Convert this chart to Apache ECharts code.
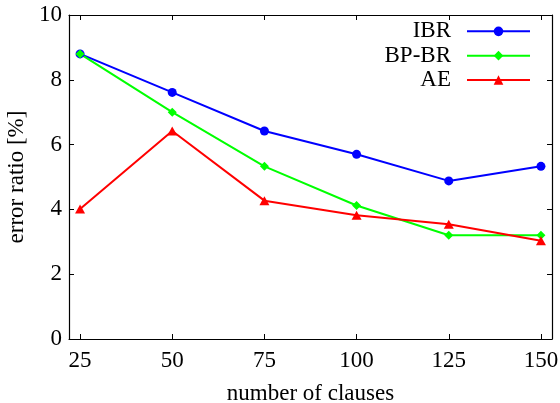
<!DOCTYPE html>
<html>
<head>
<meta charset="utf-8">
<script src="https://cdn.jsdelivr.net/npm/echarts@6/dist/echarts.min.js"></script>
<style>html,body{margin:0;padding:0;background:#fff}#c{width:560px;height:403px}</style>
</head>
<body>
<div id="c"></div>
<script>
const clauses = [25, 50, 75, 100, 125, 150];
const ibr = [8.80, 7.61, 6.42, 5.70, 4.88, 5.33];
const bpbr = [8.80, 7.00, 5.33, 4.12, 3.20, 3.20];
const ae = [4.01, 6.42, 4.27, 3.82, 3.54, 3.03];
const xTicks = [25, 50, 75, 100, 125, 150];
const seriesNames = ['IBR', 'BP-BR', 'AE'];

const FONT = "'Liberation Serif', 'Times New Roman', serif";
const pair = (vals) => clauses.map((c, i) => [c, vals[i]]);

const chart = echarts.init(document.getElementById('c'), null, {renderer: 'canvas'});
const axisLine = {show: true, onZero: false, lineStyle: {color: '#000', width: 1.2}};
const tickStyle = {lineStyle: {color: '#000', width: 1}};
chart.setOption({
  animation: false,
  backgroundColor: '#fff',
  textStyle: {fontFamily: FONT},
  grid: {left: 69, right: 8, top: 15, bottom: 64, containLabel: false, outerBoundsMode: 'none'},
  legend: {
    data: seriesNames,
    orient: 'vertical',
    align: 'right',
    right: 29,
    top: 19.5,
    padding: 0,
    itemGap: 0.6,
    itemWidth: 63,
    itemHeight: 12,
    textStyle: {fontFamily: FONT, fontSize: 23, color: '#000', lineHeight: 23.7, padding: [0, 11, 0, 0]}
  },
  xAxis: [{
    type: 'value', min: 22, max: 153,
    name: 'number of clauses', nameLocation: 'middle', nameGap: 43,
    nameTextStyle: {fontFamily: FONT, fontSize: 23, color: '#000'},
    axisLine: axisLine,
    axisTick: Object.assign({show: true, inside: true, length: 5, customValues: xTicks}, tickStyle),
    axisLabel: {show: true, customValues: xTicks, fontFamily: FONT, fontSize: 23, color: '#000', margin: 10},
    splitLine: {show: false}
  }, {
    type: 'value', min: 22, max: 153, position: 'top',
    axisLine: axisLine,
    axisTick: Object.assign({show: true, inside: true, length: 5, customValues: xTicks}, tickStyle),
    axisLabel: {show: false},
    splitLine: {show: false}
  }],
  yAxis: [{
    type: 'value', min: 0, max: 10, interval: 2,
    name: 'error ratio [%]', nameLocation: 'middle', nameGap: 38,
    nameTextStyle: {fontFamily: FONT, fontSize: 23, color: '#000'},
    axisLine: axisLine,
    axisTick: Object.assign({show: true, inside: true, length: 5}, tickStyle),
    axisLabel: {fontFamily: FONT, fontSize: 23, color: '#000', margin: 7},
    splitLine: {show: false}
  }, {
    type: 'value', min: 0, max: 10, interval: 2, position: 'right',
    axisLine: axisLine,
    axisTick: Object.assign({show: true, inside: true, length: 5}, tickStyle),
    axisLabel: {show: false},
    splitLine: {show: false}
  }],
  series: [{
    name: 'IBR', type: 'line', data: pair(ibr),
    symbol: 'circle', symbolSize: 9,
    lineStyle: {color: '#0000ff', width: 2}, itemStyle: {color: '#0000ff'}
  }, {
    name: 'BP-BR', type: 'line', data: pair(bpbr),
    symbol: 'diamond', symbolSize: 9,
    lineStyle: {color: '#00ff00', width: 2}, itemStyle: {color: '#00ff00'}
  }, {
    name: 'AE', type: 'line', data: pair(ae),
    symbol: 'triangle', symbolSize: [10, 9],
    lineStyle: {color: '#ff0000', width: 2}, itemStyle: {color: '#ff0000'}
  }]
});
</script>
</body>
</html>
